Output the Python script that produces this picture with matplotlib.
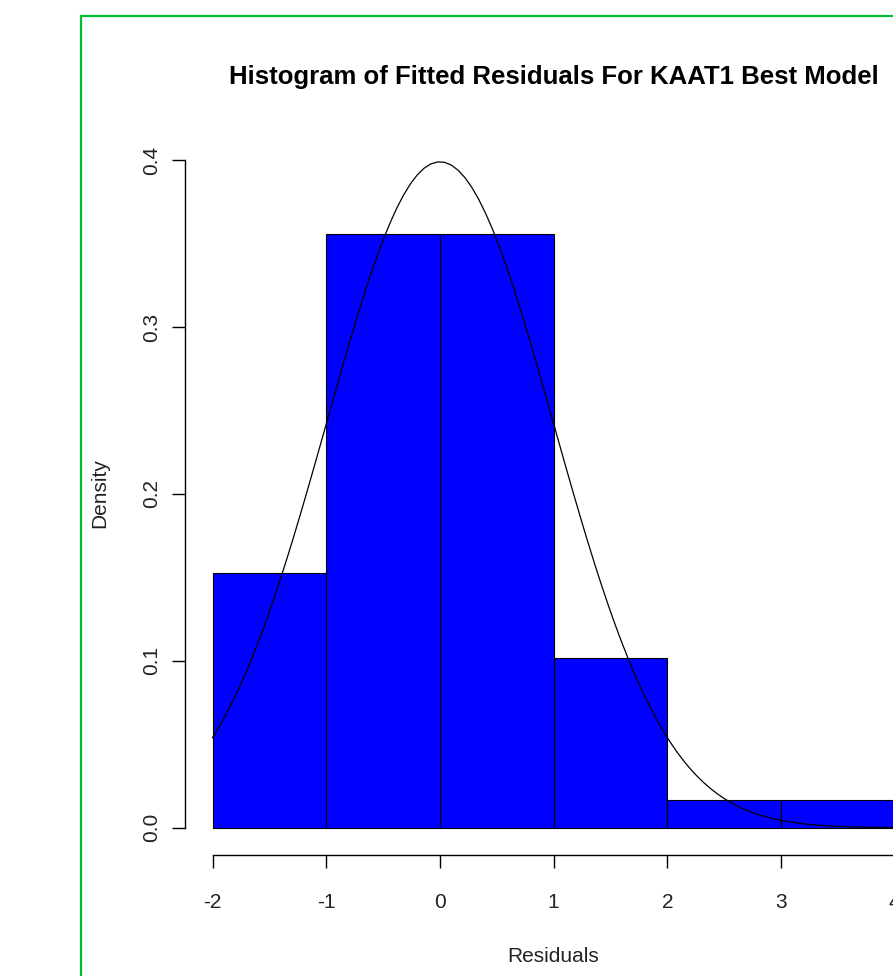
import numpy as np
import matplotlib
matplotlib.use("Agg")
import matplotlib.pyplot as plt
from matplotlib.patches import Rectangle

# histogram data
breaks = [-2, -1, 0, 1, 2, 3, 4]
density = [0.1525, 0.3559, 0.3559, 0.1017, 0.0169, 0.0169]
x_ticks = [-2, -1, 0, 1, 2, 3, 4]
x_tick_labels = ["-2", "-1", "0", "1", "2", "3", "4"]
y_ticks = [0.0, 0.1, 0.2, 0.3, 0.4]
y_tick_labels = ["0.0", "0.1", "0.2", "0.3", "0.4"]

# overlaid normal curve parameters
curve_mean = 0.0
curve_sd = 1.0
curve_points = 101

plt.rcParams["font.family"] = ["Liberation Sans", "DejaVu Sans"]

W, H = 893, 976
fig = plt.figure(figsize=(W / 100, H / 100), dpi=100)

# axes placed in pixel terms, right side runs off the image like the cropped original
left_px, right_px = 185.3, 922.0
top_px, bottom_px = 133.3, 854.5
ax = fig.add_axes([left_px / W, 1 - bottom_px / H,
                   (right_px - left_px) / W, (bottom_px - top_px) / H])
ax.set_xlim(-2.24, 4.24)
ax.set_ylim(-0.016, 0.416)

lefts = breaks[:-1]
widths = np.diff(breaks)
ax.bar(lefts, density, width=widths, align="edge", color="#0000ff",
       edgecolor="#000000", linewidth=0.8)

xs = np.linspace(breaks[0], breaks[-1], curve_points)
ys = np.exp(-0.5 * ((xs - curve_mean) / curve_sd) ** 2) / (curve_sd * np.sqrt(2 * np.pi))
ax.plot(xs, ys, color="black", linewidth=0.9)

for s in ["top", "right"]:
    ax.spines[s].set_visible(False)
ax.spines["left"].set_bounds(0, 0.4)
ax.spines["bottom"].set_bounds(-2, 4)
ax.spines["left"].set_linewidth(1.0)
ax.spines["bottom"].set_linewidth(1.0)

ax.set_xticks(x_ticks)
ax.set_xticklabels(x_tick_labels)
ax.set_yticks(y_ticks)
ax.set_yticklabels(y_tick_labels, rotation=90, va="center")
ax.tick_params(axis="both", length=9.5, width=1.0, labelsize=15, colors="black")
ax.tick_params(axis="x", pad=18)
ax.tick_params(axis="y", pad=8)
for lbl in ax.get_xticklabels() + ax.get_yticklabels():
    lbl.set_color("#222222")

fig.text(554 / W, 1 - 77 / H, "Histogram of Fitted Residuals For KAAT1 Best Model",
         ha="center", va="center", fontsize=18.5, fontweight="bold")
fig.text(553 / W, 1 - 957 / H, "Residuals", ha="center", va="center",
         fontsize=15, color="#222222")
fig.text(100 / W, 1 - 493 / H, "Density", ha="center", va="center",
         fontsize=15, rotation=90, color="#222222")

# green frame around the whole plot (cropped on the right and bottom)
fig.patches.append(Rectangle((80.5 / W, -0.1), 1.2, 1 - 16.5 / H + 0.1,
                             transform=fig.transFigure, fill=False,
                             edgecolor="#00bb33", linewidth=1.6))

fig.savefig("out.png", dpi=100)
